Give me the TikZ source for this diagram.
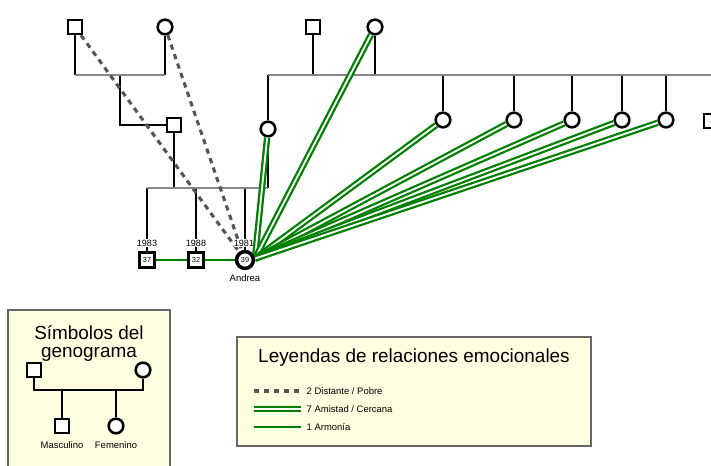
\documentclass[tikz,border=0pt]{standalone}
\usepackage{fontspec}
\setmainfont{Liberation Sans}
\definecolor{gline}{HTML}{008000}
\definecolor{kingray}{HTML}{888888}
\definecolor{dashgray}{HTML}{555555}
\definecolor{legfill}{HTML}{FFFFE1}
\definecolor{legdraw}{HTML}{666666}
\tikzset{
  male/.style={draw, rectangle, line width=1.9pt, fill=white, minimum size=10.5pt, inner sep=0pt},
  female/.style={draw, circle, line width=1.9pt, fill=white, minimum size=11pt, inner sep=0pt},
  kidm/.style={draw, rectangle, line width=2.2pt, fill=white, minimum size=11pt, inner sep=0pt, font=\fontsize{5.5}{6}\selectfont},
  kidf/.style={draw, circle, line width=2.5pt, fill=white, minimum size=12.5pt, inner sep=0pt, font=\fontsize{5.5}{6}\selectfont},
  kin/.style={line width=2.1pt, black},
  marr/.style={line width=2.2pt, kingray},
  distant/.style={line width=2.3pt, dashgray, dash pattern=on 4pt off 3.5pt},
  close/.style={draw=gline, line width=1.7pt, double=white, double distance=1.4pt},
  harmony/.style={gline, line width=2pt},
  year/.style={fill=white, inner sep=0.3pt, font=\fontsize{6.8}{7}\selectfont},
  smalltxt/.style={font=\fontsize{7.1}{8}\selectfont},
  bigtxt/.style={font=\fontsize{14.2}{16}\selectfont},
  legbox/.style={fill=legfill, draw=legdraw, line width=0.8pt},
}
\begin{document}
\begin{tikzpicture}[x=0.75pt,y=-0.75pt]
\useasboundingbox (0,0) rectangle (711,466);
% --- persons
\node[male] (gf) at (75,27) {};
\node[female] (gm) at (165,27) {};
\node[male] (f) at (174,125) {};
\node[male] (mgf) at (313,27) {};
\node[female] (mgm) at (375,27) {};
\node[female] (m) at (268,129) {};
\node[female] (a1) at (443,120) {};
\node[female] (a2) at (514,120) {};
\node[female] (a3) at (572,120) {};
\node[female] (a4) at (622,120) {};
\node[female] (a5) at (666,120) {};
\node[male] (u6) at (711,121) {};
\node[kidm] (c1) at (147,260) {37};
\node[kidm] (c2) at (196,260) {32};
\node[kidf] (andrea) at (245,260) {39};
\node[smalltxt] (aname) at (245,278) {Andrea};
% --- coordinates of family lines
\coordinate (p1) at (75,75);
\coordinate (p2) at (165,75);
\coordinate (p3) at (120,75);
\coordinate (q1) at (147,188);
\coordinate (q2) at (268,188);
\coordinate (q3) at (174,188);
\coordinate (q4) at (196,188);
\coordinate (q5) at (245,188);
\coordinate (r1) at (268,75);
\coordinate (r2) at (720,75);
\coordinate (r3) at (313,75);
\coordinate (r4) at (375,75);
% --- kinship lines
\draw[kin] (gf) -- (p1);
\draw[kin] (gm) -- (p2);
\draw[kin] (p3) |- (f.west);
\draw[kin] (f) -- (q3);
\draw[kin] (m) -- (q2);
\draw[kin] (m) -- (r1);
\draw[kin] (mgf) -- (r3);
\draw[kin] (mgm) -- (r4);
\foreach \n in {a1,a2,a3,a4,a5}{\draw[kin] (\n.north) -- (\n.north |- r1);}
\draw[kin] (q1) -- (c1);
\draw[kin] (q4) -- (c2);
\draw[kin] (q5) -- (andrea);
\draw[marr] (p1) -- (p2);
\draw[marr] (q1) -- (q2);
\draw[marr] (r1) -- (r2);
% --- distant
\draw[distant] (gf) -- (andrea);
\draw[distant] (gm) -- (andrea);
% --- year labels
\node[year] (y1) at (147,243) {1983};
\node[year] (y2) at (196,243) {1988};
\node[year] (y3) at (244,243) {1981};
% --- harmony
\draw[harmony] (c1) -- (c2);
\draw[harmony] (c2) -- (andrea);
% --- close
\foreach \n in {m,mgm,a1,a2,a3,a4,a5}{\draw[close] (andrea.8) -- (\n);}
\node[kidf] at (andrea) {39};
% --- legend 1
\draw[legbox] (8,310) rectangle (170,475);
\node[bigtxt] (l1a) at (89,333) {Símbolos del};
\node[bigtxt] (l1b) at (89,354) {genograma};
\node[male] (s1) at (34,370) {};
\node[female] (s2) at (143,370) {};
\node[male] (s3) at (62,426) {};
\node[female] (s4) at (116,426) {};
\coordinate (t1) at (34,390);
\coordinate (t2) at (143,390);
\draw[kin] (s1) -- (t1) -- (t2) -- (s2);
\draw[kin] (s3) -- (s3 |- t1);
\draw[kin] (s4) -- (s4 |- t1);
\node[smalltxt] (m1) at (62,445) {Masculino};
\node[smalltxt] (m2) at (116,445) {Femenino};
% --- legend 2
\draw[legbox] (237,337) rectangle (591,446);
\node[bigtxt] (l2) at (414,358) {Leyendas de relaciones emocionales};
\coordinate (e1) at (254,391); \coordinate (e2) at (301,391);
\coordinate (f1) at (254,409); \coordinate (f2) at (301,409);
\coordinate (g1) at (254,427); \coordinate (g2) at (301,427);
\draw[distant] (e1) -- (e2);
\draw[close] (f1) -- (f2);
\draw[harmony] (g1) -- (g2);
\node[smalltxt, anchor=west] (k1) at (302,391) {2 Distante / Pobre};
\node[smalltxt, anchor=west] (k2) at (302,409) {7 Amistad / Cercana};
\node[smalltxt, anchor=west] (k3) at (302,427) {1 Armonía};
\end{tikzpicture}
\end{document}
